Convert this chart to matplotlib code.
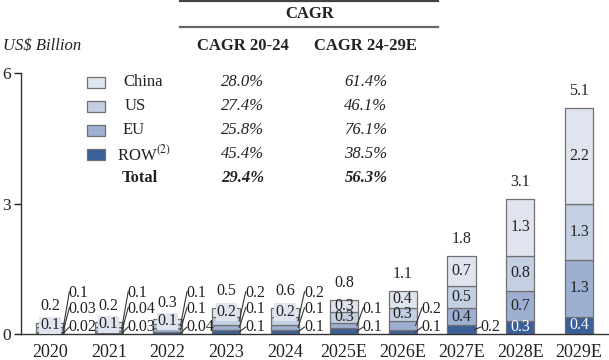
import matplotlib
matplotlib.use("Agg")
import matplotlib.pyplot as plt
from matplotlib.patches import Rectangle
from matplotlib.lines import Line2D

plt.rcParams['font.family'] = ['Liberation Serif', 'DejaVu Serif']
plt.rcParams['mathtext.fontset'] = 'stix'

# ---------------- data ----------------
years = ['2020', '2021', '2022', '2023', '2024', '2025E', '2026E', '2027E', '2028E', '2029E']
row = [0.02, 0.03, 0.04, 0.1, 0.1, 0.13, 0.1, 0.2, 0.3, 0.4]
eu = [0.03, 0.04, 0.1, 0.1, 0.1, 0.12, 0.2, 0.4, 0.7, 1.3]
us = [0.1, 0.1, 0.1, 0.2, 0.2, 0.26, 0.3, 0.5, 0.8, 1.3]
china = [0.1, 0.1, 0.1, 0.2, 0.2, 0.28, 0.4, 0.7, 1.3, 2.2]
totals = ['0.2', '0.2', '0.3', '0.5', '0.6', '0.8', '1.1', '1.8', '3.1', '5.1']

regions = ['China', 'US', 'EU', 'ROW']
cagr_20_24 = ['28.0%', '27.4%', '25.8%', '45.4%']
cagr_24_29 = ['61.4%', '46.1%', '76.1%', '38.5%']
total_cagr = ['29.4%', '56.3%']

# number of segments (from the top) labelled inside the bar
n_inside = [1, 1, 1, 1, 1, 2, 2, 3, 4, 4]

# ---------------- style ----------------
colors = {'ROW': '#3b5f98', 'EU': '#9db0d2', 'US': '#c4cfe2', 'China': '#dfe4ee'}
edge = '#707070'
W, H = 609, 360

fig = plt.figure(figsize=(W / 100, H / 100), dpi=100)

def fx(x):
    return x / W

def fy(y):
    return 1 - y / H

def fmt(v):
    return f"{v:.2f}" if v < 0.095 else f"{v:.1f}"

ax_left, ax_right, ax_top, ax_bot = 21, 609, 73, 334
ax = fig.add_axes([fx(ax_left), fy(ax_bot), (ax_right - ax_left) / W, (ax_bot - ax_top) / H])

xs = list(range(len(years)))
bw = 0.48
ax.set_xlim(-0.493, 9.51)
ax.set_ylim(0, 6)

stack = [('ROW', row), ('EU', eu), ('US', us), ('China', china)]
bottoms = [0.0] * len(years)
seg_info = []
for name, vals in stack:
    ax.bar(xs, vals, bw, bottom=bottoms, color=colors[name], edgecolor=edge, linewidth=0.9, zorder=2)
    for i, v in enumerate(vals):
        if len(seg_info) <= i:
            seg_info.append([])
        seg_info[i].append((name, bottoms[i], v))
    bottoms = [b + v for b, v in zip(bottoms, vals)]

lab_fs = 11.5
call_slots = [0.94, 0.575, 0.16]  # US, EU, ROW callout levels
for i, segs in enumerate(seg_info):
    top_down = list(reversed(segs))  # China, US, EU, ROW
    ni = n_inside[i]
    for k, (name, b, v) in enumerate(top_down):
        label = fmt(v)
        mid = b + v / 2
        if k < ni:
            tc = 'white' if name == 'ROW' else '#222222'
            kw = {}
            if i < 5:
                kw['bbox'] = dict(boxstyle='square,pad=0.05', fc=colors['China'], ec='none')
            ax.text(xs[i], mid, label, ha='center', va='center', fontsize=lab_fs, color=tc, zorder=4, **kw)
        else:
            slot = call_slots[k - 1]
            tx = xs[i] + bw / 2 + 0.08
            ax.text(tx, slot, label, ha='left', va='center', fontsize=lab_fs, color='#222222', zorder=4)
            ax.add_line(Line2D([xs[i] + bw / 2 - 0.02, tx + 0.01], [mid, slot + 0.03 if k < 3 else slot],
                               color='#333333', linewidth=0.8, zorder=3))
    ax.annotate(totals[i], (xs[i], bottoms[i]), xytext=(0, 12), textcoords='offset points',
                ha='center', va='center', fontsize=lab_fs, color='#222222')

ax.set_xticks(xs)
ax.set_xticklabels(years, fontsize=13)
ax.set_yticks([0, 3, 6])
ax.set_yticklabels(['0', '3', '6'], fontsize=12.5)
ax.tick_params(axis='x', length=0, pad=7, colors='#222222')
ax.tick_params(axis='y', length=5, width=1, pad=2, colors='#222222', direction='out')
for s in ['top', 'right']:
    ax.spines[s].set_visible(False)
for s in ['left', 'bottom']:
    ax.spines[s].set_color('#333333')
    ax.spines[s].set_linewidth(1)
ax.set_facecolor('none')

# ---------------- header / table ----------------
fig.text(fx(3), fy(46), 'US$ Billion', fontsize=12, style='italic', ha='left', va='center', color='#222222')
fig.add_artist(Line2D([fx(180), fx(438)], [fy(1), fy(1)], color='#444444', linewidth=1.6))
fig.add_artist(Line2D([fx(180), fx(438)], [fy(27), fy(27)], color='#666666', linewidth=1.6))
fig.text(fx(310), fy(14), 'CAGR', fontsize=12, weight='bold', ha='center', va='center', color='#222222')
fig.text(fx(243), fy(46), 'CAGR 20-24', fontsize=12, weight='bold', ha='center', va='center', color='#222222')
fig.text(fx(365), fy(46), 'CAGR 24-29E', fontsize=12, weight='bold', ha='center', va='center', color='#222222')

row_y = [82, 106, 130, 154]
for name, y, c1, c2 in zip(regions, row_y, cagr_20_24, cagr_24_29):
    fig.add_artist(Rectangle((fx(87), fy(y + 5.5)), 18 / W, 11 / H, transform=fig.transFigure,
                             facecolor=colors[name], edgecolor=edge, linewidth=0.9))
    lbl = 'ROW$^{(2)}$' if name == 'ROW' else name
    lx = 117 if name == 'ROW' else (125 if name in ('US',) else 123)
    fig.text(fx(lx), fy(y), lbl, fontsize=12, ha='left', va='center', color='#222222')
    fig.text(fx(243), fy(y), c1, fontsize=12, style='italic', ha='center', va='center', color='#222222')
    fig.text(fx(366), fy(y), c2, fontsize=12, style='italic', ha='center', va='center', color='#222222')
fig.text(fx(122), fy(178), 'Total', fontsize=12, weight='bold', ha='left', va='center', color='#222222')
fig.text(fx(243), fy(178), total_cagr[0], fontsize=12, weight='bold', style='italic', ha='center', va='center', color='#222222')
fig.text(fx(366), fy(178), total_cagr[1], fontsize=12, weight='bold', style='italic', ha='center', va='center', color='#222222')

fig.savefig('out.png', dpi=100)
